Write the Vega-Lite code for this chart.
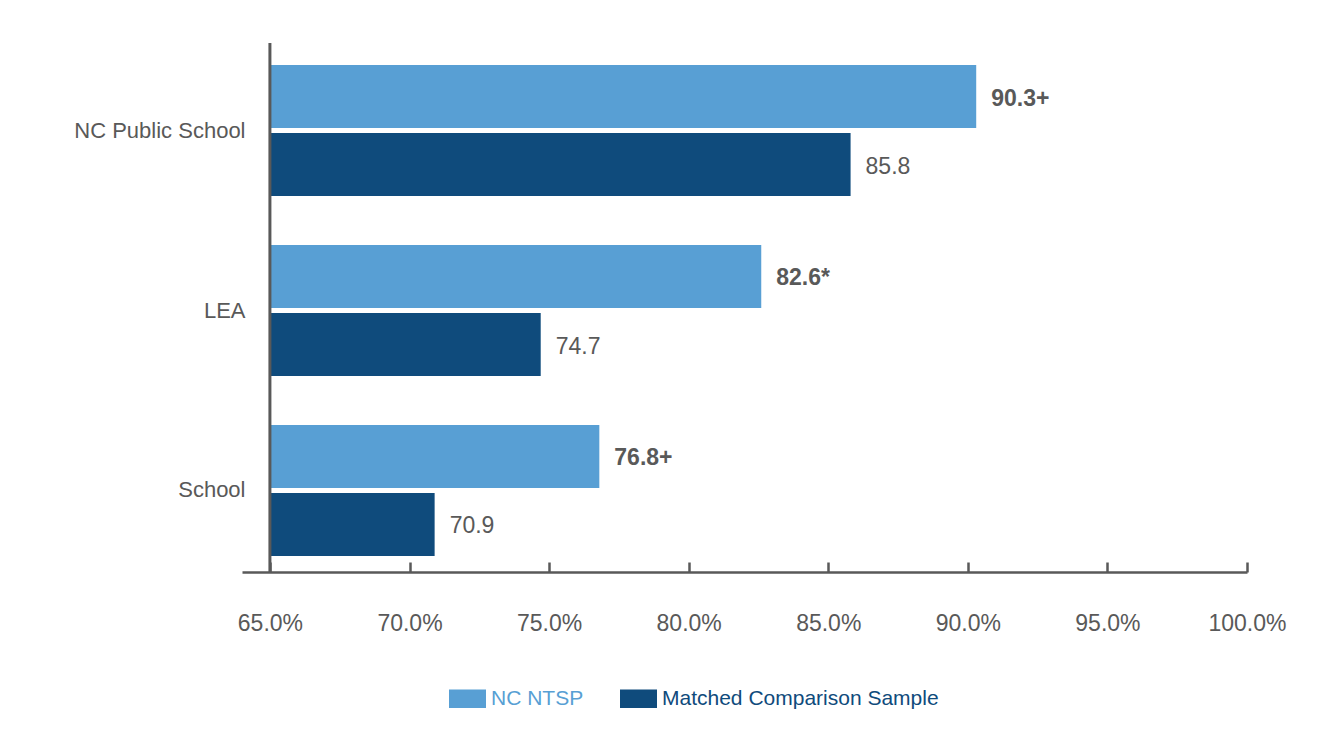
{
  "$schema": "https://vega.github.io/schema/vega-lite/v6.json",
  "autosize": "none",
  "width": 1005,
  "height": 523,
  "padding": {"left": 242, "top": 49, "right": 89, "bottom": 167},
  "background": "white",
  "config": {
    "view": {"stroke": null},
    "font": "Liberation Sans"
  },
  "data": {
    "values": [
      {"category": "NC Public School", "series": "NC NTSP", "value": 90.3, "label": "90.3+"},
      {"category": "NC Public School", "series": "Matched Comparison Sample", "value": 85.8, "label": "85.8"},
      {"category": "LEA", "series": "NC NTSP", "value": 82.6, "label": "82.6*"},
      {"category": "LEA", "series": "Matched Comparison Sample", "value": 74.7, "label": "74.7"},
      {"category": "School", "series": "NC NTSP", "value": 76.8, "label": "76.8+"},
      {"category": "School", "series": "Matched Comparison Sample", "value": 70.9, "label": "70.9"}
    ]
  },
  "encoding": {
    "y": {
      "field": "category",
      "type": "nominal",
      "sort": ["NC Public School", "LEA", "School"],
      "scale": {"paddingInner": 0.272, "paddingOuter": 0.0889},
      "axis": {
        "title": null,
        "domain": false,
        "ticks": false,
        "labelPadding": -3,
        "labelFontSize": 22,
        "labelColor": "#595959",
        "labelFont": "Liberation Sans"
      }
    },
    "yOffset": {
      "field": "series",
      "type": "nominal",
      "sort": ["NC NTSP", "Matched Comparison Sample"],
      "scale": {"domain": ["NC NTSP", "Matched Comparison Sample"], "paddingInner": 0.0735, "paddingOuter": 0}
    }
  },
  "layer": [
    {
      "mark": {"type": "bar", "cornerRadius": 0},
      "encoding": {
        "x": {
          "field": "value",
          "type": "quantitative",
          "scale": {"domain": [64, 100], "nice": false, "zero": false},
          "axis": {
            "title": null,
            "values": [65, 70, 75, 80, 85, 90, 95, 100],
            "labelExpr": "format(datum.value, '.1f') + '%'",
            "labelFlush": false,
            "grid": false,
            "domainColor": "#595959",
            "domainWidth": 2.5,
            "tickColor": "#595959",
            "tickWidth": 2.5,
            "tickSize": -10,
            "labelPadding": 50,
            "labelFontSize": 23,
            "labelColor": "#595959",
            "labelFont": "Liberation Sans"
          }
        },
        "x2": {"datum": 65},
        "color": {
          "field": "series",
          "type": "nominal",
          "sort": ["NC NTSP", "Matched Comparison Sample"],
          "scale": {"domain": ["NC NTSP", "Matched Comparison Sample"], "range": ["#589fd4", "#0f4b7c"]},
          "legend": {
            "title": null,
            "orient": "none",
            "direction": "horizontal",
            "legendX": 207,
            "legendY": 631,
            "symbolType": "M-1,-0.5H1V0.5H-1Z",
            "symbolSize": 1369,
            "symbolStrokeWidth": 0,
            "symbolOpacity": 1,
            "labelFontSize": 21,
            "labelFont": "Liberation Sans",
            "labelOffset": 5,
            "columnPadding": 36,
            "labelLimit": 400,
            "encode": {
              "labels": {
                "update": {
                  "fill": {"signal": "datum.value === 'NC NTSP' ? '#589fd4' : '#0f4b7c'"}
                }
              }
            }
          }
        }
      }
    },
    {
      "transform": [{"filter": "datum.series === 'NC NTSP'"}],
      "mark": {"type": "text", "align": "left", "baseline": "middle", "dx": 15, "dy": 2, "fontSize": 23, "fontWeight": "bold", "color": "#595959", "font": "Liberation Sans"},
      "encoding": {
        "x": {"field": "value", "type": "quantitative"},
        "text": {"field": "label"}
      }
    },
    {
      "transform": [{"filter": "datum.series !== 'NC NTSP'"}],
      "mark": {"type": "text", "align": "left", "baseline": "middle", "dx": 15, "dy": 2, "fontSize": 23, "fontWeight": "normal", "color": "#595959", "font": "Liberation Sans"},
      "encoding": {
        "x": {"field": "value", "type": "quantitative"},
        "text": {"field": "label"}
      }
    },
    {
      "data": {"values": [{"x": 65}]},
      "mark": {"type": "rule", "color": "#595959", "strokeWidth": 3},
      "encoding": {
        "x": {"field": "x", "type": "quantitative"},
        "y": {"value": -6},
        "y2": {"value": 523},
        "yOffset": null
      }
    }
  ]
}
